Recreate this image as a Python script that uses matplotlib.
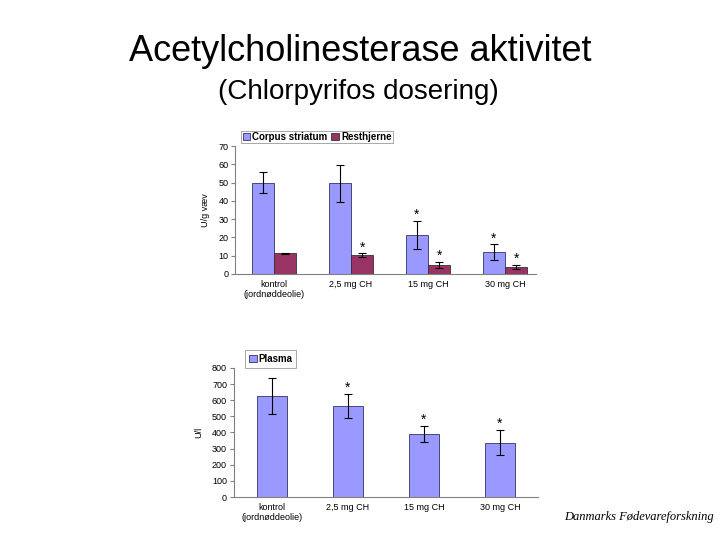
import numpy as np
import matplotlib
matplotlib.use("Agg")
import matplotlib.pyplot as plt

plt.rcParams['font.family'] = ['Liberation Sans', 'DejaVu Sans']

categories = ["kontrol\n(jordnøddeolie)", "2,5 mg CH", "15 mg CH", "30 mg CH"]

# brain (U/g tissue)
corpus = [50.0, 49.5, 21.3, 12.0]
corpus_err = [5.7, 9.9, 7.8, 4.3]
resthjerne = [11.3, 10.4, 4.9, 3.9]
resthjerne_err = [0.3, 0.9, 1.6, 1.0]
corpus_star = [False, False, True, True]
rest_star = [False, True, True, True]

# plasma (U/l)
plasma = [626, 566, 393, 337]
plasma_err = [113, 74, 50, 79]
plasma_star = [False, True, True, True]

blue = "#9999FF"
plum = "#993366"

fig = plt.figure(figsize=(7.2, 5.4), dpi=100)

fig.text(0.5, 0.904, "Acetylcholinesterase aktivitet", ha="center", va="center", fontsize=26)
fig.text(0.498, 0.83, "(Chlorpyrifos dosering)", ha="center", va="center", fontsize=20)
fig.text(0.888, 0.043, "Danmarks Fødevareforskning", ha="center", va="center",
         fontsize=9, family="Liberation Serif", style="italic")


def style_axes(ax, right):
    for s in ["top", "right"]:
        ax.spines[s].set_visible(False)
    ax.spines["left"].set_color("#808080")
    ax.spines["bottom"].set_color("#808080")
    ax.tick_params(axis="y", labelsize=6.5, length=3, color="#808080", pad=2)
    ax.tick_params(axis="x", labelsize=6.5, length=0, pad=4)
    ax.set_xlim(-0.5, right)


x = np.arange(len(categories))
ekw = dict(ecolor="black", elinewidth=0.8, capsize=3, capthick=0.8)

# top chart
ax1 = fig.add_axes([0.327, 0.4926, 0.417, 0.237])
w = 0.29
ax1.bar(x - w / 2, corpus, w, yerr=corpus_err, color=blue, edgecolor="#333366",
        linewidth=0.6, error_kw=ekw, label="Corpus striatum")
ax1.bar(x + w / 2, resthjerne, w, yerr=resthjerne_err, color=plum, edgecolor="#333333",
        linewidth=0.6, error_kw=ekw, label="Resthjerne")
for i in range(len(categories)):
    if corpus_star[i]:
        ax1.text(x[i] - w / 2, corpus[i] + corpus_err[i] + 3.2, "*", ha="center", va="center", fontsize=10)
    if rest_star[i]:
        ax1.text(x[i] + w / 2, resthjerne[i] + resthjerne_err[i] + 3.2, "*", ha="center", va="center", fontsize=10)
ax1.set_ylim(0, 70)
ax1.set_yticks(range(0, 71, 10))
ax1.set_xticks(x)
ax1.set_xticklabels(categories)
ax1.set_ylabel("U/g væv", fontsize=6.5, labelpad=6)
style_axes(ax1, 3.4)
leg1 = ax1.legend(loc="lower left", bbox_to_anchor=(0.02, 1.023), ncol=2,
                  prop={"weight": "bold", "size": 7}, frameon=True, fancybox=False,
                  handlelength=0.8, handleheight=0.8, handletextpad=0.2, columnspacing=0.4,
                  borderpad=0.12, borderaxespad=0)
leg1.get_frame().set_edgecolor("#808080")
leg1.get_frame().set_linewidth(0.6)

# bottom chart
ax2 = fig.add_axes([0.325, 0.0796, 0.422, 0.239])
w2 = 0.4
ax2.bar(x, plasma, w2, yerr=plasma_err, color=blue, edgecolor="#333366",
        linewidth=0.6, error_kw=ekw, label="Plasma")
for i in range(len(categories)):
    if plasma_star[i]:
        ax2.text(x[i], plasma[i] + plasma_err[i] + 36, "*", ha="center", va="center", fontsize=10)
ax2.set_ylim(0, 800)
ax2.set_yticks(range(0, 801, 100))
ax2.set_xticks(x)
ax2.set_xticklabels(categories)
ax2.set_ylabel("U/l", fontsize=6.5, labelpad=6)
style_axes(ax2, 3.5)
leg2 = ax2.legend(loc="lower left", bbox_to_anchor=(0.036, 1.0), 
                  prop={"weight": "bold", "size": 7}, frameon=True, fancybox=False,
                  handlelength=0.8, handleheight=0.8, handletextpad=0.2,
                  borderpad=0.4, borderaxespad=0)
leg2.get_frame().set_edgecolor("#808080")
leg2.get_frame().set_linewidth(0.6)

fig.savefig("out.png", dpi=100)
